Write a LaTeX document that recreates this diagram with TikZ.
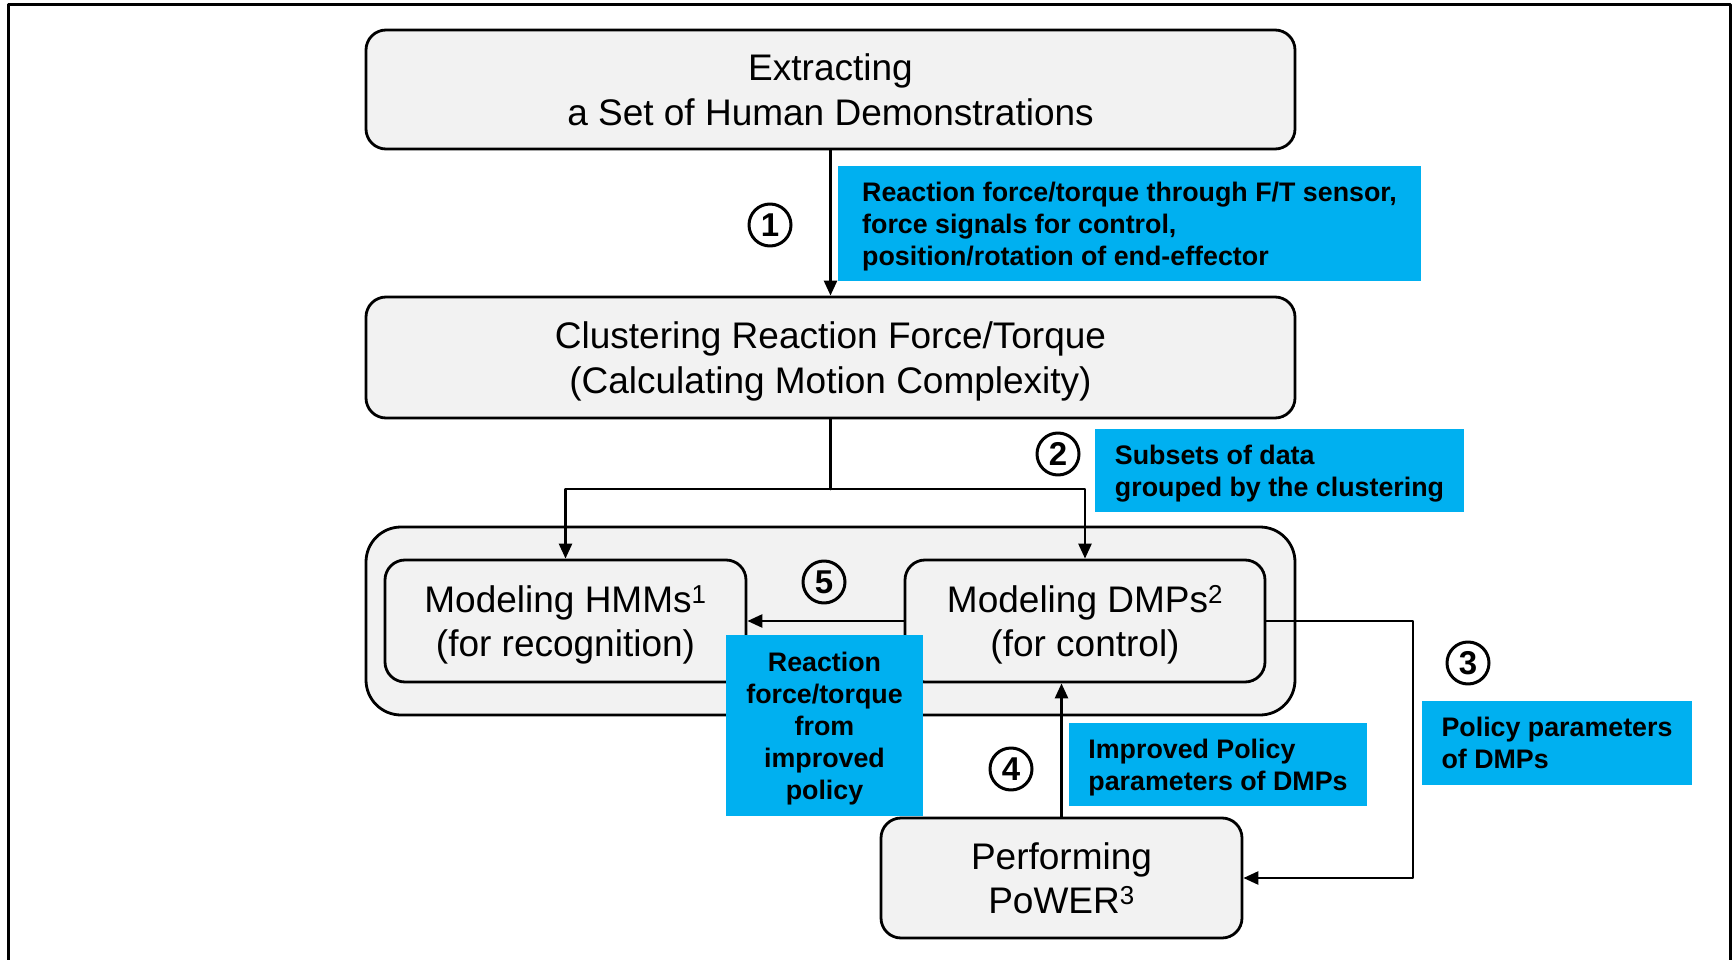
\documentclass[tikz,border=0pt]{standalone}
\usepackage{fontspec}
\setmainfont{Liberation Sans}
\usetikzlibrary{arrows.meta}
\definecolor{boxgray}{HTML}{F2F2F2}
\definecolor{skyblue}{HTML}{00B0F0}
\begin{document}
\begin{tikzpicture}[line cap=round,line join=round,x=1pt,y=-1pt,
  stepbox/.style={draw,fill=boxgray,line width=2.8pt,rounded corners=20pt,
    align=center,inner sep=0pt,text depth=-2.5pt,font=\fontsize{37}{44.5}\selectfont},
  tag/.style={fill=skyblue,inner sep=0pt,text depth=0pt,font=\fontsize{26.8}{32}\selectfont\bfseries},
  num/.style={draw,circle,line width=3pt,minimum size=42pt,inner sep=0pt,
    font=\fontsize{33}{33}\selectfont\bfseries},
  arr/.style={line width=2.6pt,-{Triangle[length=15pt,width=13pt]}},
  ln/.style={line width=2.6pt}]
\useasboundingbox (0,0) rectangle (1733,960);
% frame
\draw[line width=3pt,line cap=butt] (8,960) -- (8,5) -- (1730,5) -- (1730,960);
\node[stepbox,minimum width=929pt,minimum height=119pt] (ext) at (830.5,89.5)
  {Extracting\\a Set of Human Demonstrations};
\node[stepbox,minimum width=929pt,minimum height=121pt] (clu) at (830.5,357.5)
  {Clustering Reaction Force/Torque\\(Calculating Motion Complexity)};
\node[stepbox,rounded corners=35pt,minimum width=929pt,minimum height=188pt] (group) at (830.5,621) {};
\node[stepbox,minimum width=361pt,minimum height=122pt] (hmm) at (565.5,621)
  {Modeling HMMs\textsuperscript{1}\\(for recognition)};
\node[stepbox,minimum width=360pt,minimum height=122pt] (dmp) at (1085,621)
  {Modeling DMPs\textsuperscript{2}\\(for control)};
\node[stepbox,minimum width=361pt,minimum height=120pt] (pow) at (1061.5,878)
  {Performing\\PoWER\textsuperscript{3}};
\coordinate (split) at (830.5,489);
\coordinate (turn) at (1413,621);
\draw[arr] (ext) -- (clu);
\draw[ln] (clu) -- (split);
\draw[arr] (split) -| (hmm);
\draw[arr] (split) -| (dmp);
\draw[arr] (dmp.west) -- (hmm.east);
\draw[arr] (dmp.east) -- (turn) |- (pow);
\draw[arr] (pow.north) -- (pow.north |- dmp.south);
\node[tag,minimum width=583pt,minimum height=115pt,align=left] (t1) at (1129.5,224)
  {Reaction force/torque through F/T sensor,\\force signals for control,\\position/rotation of end-effector};
\node[tag,minimum width=369pt,minimum height=83pt,align=left] (t2) at (1279.5,470.5)
  {Subsets of data\\grouped by the clustering};
\node[tag,minimum width=270pt,minimum height=84pt,align=left] (t3) at (1557,743)
  {Policy parameters\\of DMPs};
\node[tag,minimum width=298pt,minimum height=83pt,align=left] (t4) at (1218,764.5)
  {Improved Policy\\parameters of DMPs};
\node[tag,minimum width=197pt,minimum height=181pt,align=center] (t5) at (824.5,725.5)
  {Reaction\\force/torque\\from\\improved\\policy};
\node[num] (n1) at (770,225) {1};
\node[num] (n2) at (1058,454) {2};
\node[num] (n3) at (1468,663) {3};
\node[num] (n4) at (1011,769) {4};
\node[num] (n5) at (824,582) {5};
\end{tikzpicture}
\end{document}
